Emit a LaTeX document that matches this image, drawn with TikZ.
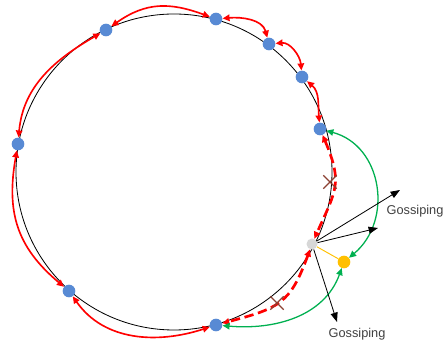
\documentclass[tikz,border=0pt]{standalone}
\usepackage{fontspec}
\setmainfont{Liberation Sans}
\usepackage{tikz}
\usetikzlibrary{arrows.meta, shapes.misc}
\definecolor{peerblue}{RGB}{88,138,212}
\definecolor{downgray}{RGB}{215,215,215}
\definecolor{joinorange}{RGB}{255,192,0}
\definecolor{repairgreen}{RGB}{0,176,80}
\definecolor{cutbrown}{RGB}{140,65,50}
\definecolor{labelgray}{RGB}{64,64,64}

\begin{document}
\begin{tikzpicture}[
    x=0.03cm, y=0.03cm,
    peer/.style={circle, fill=peerblue, minimum size=0.38cm, inner sep=0pt},
    downpeer/.style={peer, fill=downgray, minimum size=0.33cm},
    joinpeer/.style={peer, fill=joinorange},
    link/.style={{Triangle[length=6pt, width=5.5pt]}-{Triangle[length=6pt, width=5.5pt]},
                 line width=1.4pt, red},
    brokenlink/.style={link, line width=2.3pt, dash pattern=on 8pt off 4pt},
    repair/.style={link, line width=1.1pt, repairgreen},
    gossip/.style={-{Triangle[length=8pt, width=6pt]}, line width=0.7pt, black},
    cut/.style={cross out, draw=cutbrown, line width=1.1pt, minimum size=0.36cm, inner sep=0pt},
    gosslabel/.style={font=\fontsize{10.9}{13}\selectfont, text=labelgray}
]
\useasboundingbox (0,0) rectangle (443,342);
% the ring
\draw[line width=0.7pt] (174,170) circle [radius=158];

% peers on the ring
\node (p1) [peer] at (18,198) {};
\node (p2) [peer] at (106,312) {};
\node (p3) [peer] at (216,323) {};
\node (p4) [peer] at (269,298) {};
\node (p5) [peer] at (302,265) {};
\node (p6) [peer] at (320,213) {};
\node (p7) [peer] at (216,17) {};
\node (p8) [peer] at (69,51) {};
\node (fail) [downpeer] at (312,98) {};
\node (new) [joinpeer] at (344,80) {};

% neighbour links
\draw[link] (p2) to[out=35, in=160, looseness=1.1] (p3);
\draw[link] (p3) to[out=5, in=105] (p4);
\draw[link] (p4) to[out=5, in=95] (p5);
\draw[link] (p5) to[out=-40, in=95] (p6);
\draw[link] (p2) to[out=210, in=85] (p1);
\draw[link] (p1) to[out=260, in=140, looseness=1.1] (p8);
\draw[link] (p8) to[out=-55, in=198] (p7);

% links lost with the failed peer
\draw[brokenlink] (p6) to[out=-67, in=66, looseness=1.3] (fail);
\draw[brokenlink] (fail) to[out=250, in=15, looseness=1.3] (p7);
\node (x1) [cut] at (330,160) {};
\node (x2) [cut] at (277,39) {};

% new peer takes over
\draw[repair] (p6) to[out=-15, in=40, looseness=1.15] (new);
\draw[repair] (p7) to[out=-5, in=250] (new);
\draw[joinorange, line width=0.8pt] (fail) -- (new);

% gossiping
\coordinate (t1) at (400,152);
\coordinate (t2) at (378,114);
\coordinate (t3) at (337,20);
\draw[gossip] (fail) -- (t1);
\draw[gossip] (fail) -- (t2);
\draw[gossip] (fail) -- (t3);
\node (g1) [gosslabel] at (415,131) {Gossiping};
\node (g2) [gosslabel] at (357,8) {Gossiping};
\end{tikzpicture}
\end{document}
